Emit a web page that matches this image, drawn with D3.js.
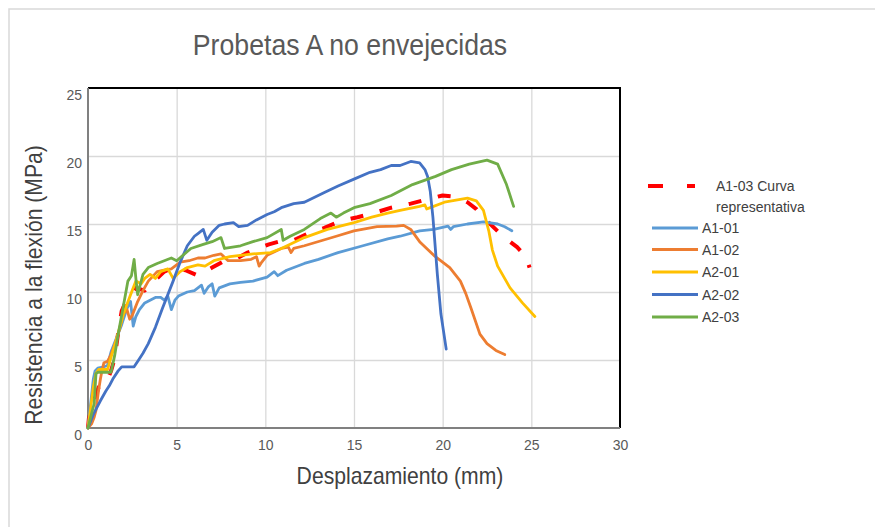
<!DOCTYPE html>
<html>
<head>
<meta charset="utf-8">
<script src="https://cdn.jsdelivr.net/npm/d3@7"></script>
<style>
  body { margin: 0; background: #fff; }
  svg { display: block; }
  text { font-family: "Liberation Sans", Arial, sans-serif; }
</style>
</head>
<body>
<svg id="chart" width="875" height="527"></svg>
<script>
// Flexural strength vs. displacement for the unaged specimens (series A)
const chartTitle = "Probetas A no envejecidas";
const xTitle = "Desplazamiento (mm)";
const yTitle = "Resistencia a la flexión (MPa)";
const xTicks = [0, 5, 10, 15, 20, 25, 30];
const yTicks = [0, 5, 10, 15, 20, 25];
const seriesNames = ["A1-03 Curva representativa", "A1-01", "A1-02", "A2-01", "A2-02", "A2-03"];

// [displacement mm, strength MPa]
const a103 = [[0,0],[0.05,0.7],[0.3,1.8],[0.6,3.0],[1.0,3.2],[1.3,4.2],[1.5,5.1],[1.7,7.0],[1.9,8.6],[2.2,9.5],[2.7,10.3],[3.2,10.1],[3.5,10.6],[3.9,11.0],[4.3,11.5],[4.8,11.8],[5.5,11.6],[6.2,11.2],[7.0,11.8],[7.7,12.3],[8.3,12.4],[9.0,12.9],[9.6,13.2],[10.2,13.5],[10.9,13.75],[11.6,13.8],[12.4,14.3],[13.3,14.7],[14.2,15.2],[15.2,15.5],[16.1,15.8],[17.1,16.2],[18.2,16.5],[19.1,16.8],[20.0,17.1],[20.8,17.0],[21.4,16.6],[21.9,16.1],[22.6,15.1],[23.4,14.1],[24.2,13.3],[24.7,12.6],[24.9,11.8]];
const a101 = [[0,0],[0.1,1.2],[0.2,2.4],[0.3,3.6],[0.4,4.2],[0.55,4.4],[0.9,4.5],[1.1,4.6],[1.3,5.6],[1.6,6.6],[1.9,7.6],[2.2,8.8],[2.4,9.3],[2.55,7.5],[2.7,8.2],[2.9,8.7],[3.2,9.2],[3.5,9.4],[3.8,9.6],[4.1,9.6],[4.3,9.4],[4.5,9.7],[4.7,8.7],[4.9,9.4],[5.1,9.7],[5.6,10.0],[6.0,10.1],[6.4,10.5],[6.55,9.9],[6.8,10.4],[7.0,10.6],[7.15,9.7],[7.4,10.3],[8.0,10.6],[8.6,10.7],[9.3,10.8],[10.1,11.1],[10.5,11.5],[10.7,11.2],[11.2,11.6],[12.2,12.1],[13.0,12.4],[14.1,12.9],[15.5,13.4],[16.9,13.9],[17.6,14.1],[18.7,14.5],[19.5,14.6],[20.3,14.85],[20.45,14.6],[20.6,14.8],[21.4,15.0],[22.3,15.15],[23.1,15.0],[23.5,14.8],[23.9,14.5]];
const a102 = [[0,0],[0.2,0.3],[0.35,0.8],[0.45,1.3],[0.6,2.8],[0.7,3.6],[0.8,4.3],[0.9,4.8],[1.1,4.9],[1.3,5.4],[1.5,6.1],[1.7,6.9],[2.0,8.4],[2.2,8.7],[2.35,8.0],[2.5,8.3],[2.8,9.3],[3.1,10.1],[3.4,10.8],[3.9,11.5],[4.3,11.6],[4.7,11.7],[5.2,12.2],[5.7,12.3],[6.2,12.5],[6.6,12.5],[7.1,12.7],[7.5,12.8],[7.9,12.3],[8.6,12.3],[9.2,12.4],[9.5,12.6],[9.65,11.9],[9.8,12.2],[10.1,12.7],[10.9,13.2],[11.3,13.3],[11.45,12.9],[11.6,13.2],[12.2,13.4],[13.1,13.75],[14.0,14.1],[15.0,14.5],[16.3,14.8],[17.4,14.85],[17.8,14.9],[18.2,14.6],[18.7,13.7],[19.5,12.7],[20.4,11.8],[21.0,10.8],[21.3,9.9],[21.6,8.8],[22.1,6.9],[22.5,6.2],[23.0,5.7],[23.5,5.4]];
const a201 = [[0,0],[0.15,1.5],[0.3,3.0],[0.45,4.0],[0.6,4.3],[1.1,4.3],[1.3,5.2],[1.6,6.5],[2.0,8.4],[2.4,9.8],[2.7,10.8],[3.0,10.6],[3.2,11.0],[3.5,11.3],[3.8,11.0],[4.1,11.5],[4.5,11.7],[4.8,11.0],[5.2,11.5],[5.6,11.8],[6.2,12.0],[6.6,11.9],[7.1,12.3],[8.0,12.6],[9.3,12.8],[10.3,12.9],[10.9,13.2],[12.2,14.0],[13.5,14.6],[15.0,15.1],[16.0,15.5],[16.9,15.8],[17.6,16.0],[18.7,16.3],[19.0,16.4],[19.1,16.1],[19.3,16.2],[20.1,16.6],[21.4,16.9],[21.9,16.7],[22.3,16.0],[22.6,14.5],[22.8,13.1],[23.1,11.9],[23.8,10.3],[24.5,9.2],[25.2,8.2]];
const a202 = [[0,0],[0.3,1.0],[0.7,2.0],[1.0,2.7],[1.2,3.1],[1.4,3.6],[1.7,4.2],[1.9,4.5],[2.6,4.5],[2.9,5.1],[3.1,5.5],[3.4,6.2],[3.8,7.4],[4.2,8.8],[4.8,10.8],[5.2,12.2],[5.6,13.4],[6.0,14.1],[6.2,14.3],[6.5,14.6],[6.7,13.8],[7.0,14.4],[7.4,14.9],[7.7,15.0],[8.2,15.1],[8.5,14.8],[9.0,14.9],[9.5,15.3],[10.1,15.7],[10.5,15.9],[10.9,16.2],[11.6,16.5],[12.2,16.6],[13.3,17.3],[14.1,17.8],[15.0,18.3],[15.9,18.8],[16.5,19.0],[17.1,19.3],[17.6,19.3],[18.2,19.6],[18.7,19.5],[19.0,19.0],[19.15,18.5],[19.3,17.4],[19.45,15.5],[19.7,11.3],[19.9,8.4],[20.2,5.8]];
const a203 = [[0,0],[0.15,0.8],[0.35,1.8],[0.45,4.0],[0.55,4.1],[1.3,4.1],[1.5,5.3],[1.7,6.9],[2.0,9.0],[2.25,10.8],[2.45,11.2],[2.6,12.4],[2.7,11.0],[2.8,9.8],[3.1,11.3],[3.4,11.8],[3.9,12.1],[4.3,12.3],[4.7,12.5],[5.0,12.3],[5.8,13.2],[6.5,13.5],[7.0,13.7],[7.5,14.0],[7.7,13.2],[8.6,13.4],[9.3,13.7],[10.1,14.0],[10.9,14.6],[11.0,13.8],[11.4,14.1],[12.2,14.6],[13.1,15.4],[13.7,15.8],[14.0,15.5],[14.4,15.8],[15.0,16.2],[15.9,16.5],[17.1,17.1],[18.3,17.9],[19.6,18.5],[20.5,19.0],[21.5,19.4],[22.5,19.7],[23.1,19.4],[23.6,17.9],[24.0,16.3]];

const seriesData = [a103, a101, a102, a201, a202, a203];
const seriesColors = ["#FF0000", "#5B9BD5", "#ED7D31", "#FFC000", "#4472C4", "#70AD47"];

const svg = d3.select("#chart");
const W = 875, H = 527;
const plot = { left: 88, right: 620, top: 88, bottom: 428 };

// outer chart frame
svg.append("path")
  .attr("d", `M9,${H} V9 H${W}`)
  .attr("fill", "none").attr("stroke", "#d9d9d9").attr("stroke-width", 1.5);

const x = d3.scaleLinear().domain([0, 30]).range([plot.left, plot.right]);
const y = d3.scaleLinear().domain([0, 25]).range([plot.bottom, plot.top]);

// gridlines
svg.append("g")
  .attr("transform", `translate(0,${plot.bottom})`)
  .call(d3.axisBottom(x).tickValues(xTicks.slice(1, -1)).tickSize(-(plot.bottom - plot.top)).tickFormat(""))
  .call(g => g.select(".domain").remove())
  .call(g => g.selectAll("line").attr("stroke", "#d9d9d9").attr("stroke-width", 1.3));
svg.append("g")
  .attr("transform", `translate(${plot.left},0)`)
  .call(d3.axisLeft(y).tickValues(yTicks.slice(1, -1)).tickSize(-(plot.right - plot.left)).tickFormat(""))
  .call(g => g.select(".domain").remove())
  .call(g => g.selectAll("line").attr("stroke", "#d9d9d9").attr("stroke-width", 1.3));

// plot frame: black top/right, grey axes left/bottom
svg.append("path")
  .attr("d", `M${plot.left},${plot.top} H${plot.right} V${plot.bottom}`)
  .attr("fill", "none").attr("stroke", "#000").attr("stroke-width", 2);
svg.append("path")
  .attr("d", `M${plot.left},${plot.top} V${plot.bottom} H${plot.right}`)
  .attr("fill", "none").attr("stroke", "#808080").attr("stroke-width", 2);

// tick labels
const xAxis = svg.append("g")
  .attr("transform", `translate(0,${plot.bottom})`)
  .call(d3.axisBottom(x).tickValues(xTicks).tickSize(0).tickPadding(12));
const yAxis = svg.append("g")
  .attr("transform", `translate(${plot.left},0)`)
  .call(d3.axisLeft(y).tickValues(yTicks).tickSize(0).tickPadding(6));
[xAxis, yAxis].forEach(g => {
  g.select(".domain").remove();
  g.selectAll("text").attr("font-size", 14).attr("fill", "#595959")
    .style("font-family", '"Liberation Sans", Arial, sans-serif');
});
yAxis.selectAll("text").attr("dy", "0.85em");

// series
const line = d3.line().x(d => x(d[0])).y(d => y(d[1]));
seriesData.forEach((data, i) => {
  const p = svg.append("path")
    .datum(data)
    .attr("d", line)
    .attr("fill", "none")
    .attr("stroke", seriesColors[i])
    .attr("stroke-linejoin", "round");
  if (i === 0) {
    p.attr("stroke-width", 4).attr("stroke-dasharray", "13,17");
  } else {
    p.attr("stroke-width", 2.8).attr("stroke-linecap", "round");
  }
});

// titles (slightly condensed glyphs)
svg.append("text")
  .attr("transform", "translate(350,55) scale(0.92,1)")
  .attr("text-anchor", "middle").attr("font-size", 29).attr("fill", "#595959")
  .text(chartTitle);
svg.append("text")
  .attr("transform", "translate(400,484) scale(0.92,1)")
  .attr("text-anchor", "middle").attr("font-size", 23).attr("fill", "#404040")
  .text(xTitle);
svg.append("text")
  .attr("transform", "translate(42,285) rotate(-90) scale(0.92,1)")
  .attr("text-anchor", "middle").attr("font-size", 23).attr("fill", "#404040")
  .text(yTitle);

// legend
const legend = svg.append("g");
const legendRows = [186, 228, 249.5, 272, 294.5, 317];
seriesNames.forEach((name, i) => {
  const ly = legendRows[i];
  if (i === 0) {
    legend.append("line")
      .attr("x1", 648).attr("x2", 695).attr("y1", ly).attr("y2", ly)
      .attr("stroke", seriesColors[i]).attr("stroke-width", 4).attr("stroke-dasharray", "15,24");
    const t = legend.append("text").attr("x", 716).attr("y", ly + 5)
      .attr("font-size", 14).attr("fill", "#404040");
    t.append("tspan").attr("x", 716).text("A1-03 Curva");
    t.append("tspan").attr("x", 716).attr("dy", 21).text("representativa");
  } else {
    legend.append("line")
      .attr("x1", 652).attr("x2", 698).attr("y1", ly).attr("y2", ly)
      .attr("stroke", seriesColors[i]).attr("stroke-width", 2.8);
    legend.append("text").attr("x", 702).attr("y", ly + 5)
      .attr("font-size", 14).attr("fill", "#404040").text(name);
  }
});
</script>
</body>
</html>
